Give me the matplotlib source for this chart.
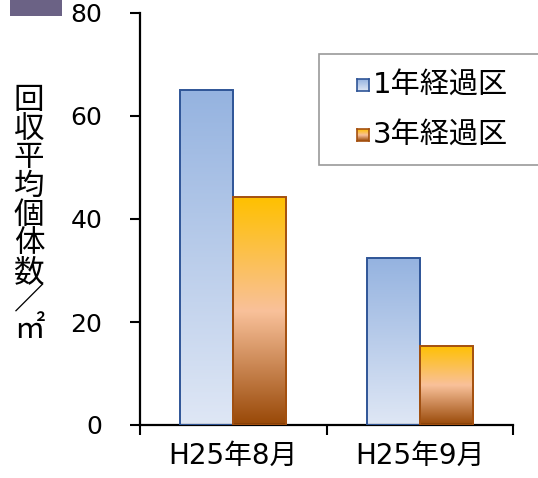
import matplotlib
matplotlib.use('Agg')
import matplotlib.pyplot as plt
import matplotlib.patches as mpatches
from matplotlib.colors import LinearSegmentedColormap
import numpy as np

plt.rcParams['font.family'] = ['DejaVu Sans', 'Noto Sans CJK JP']

# ── データ ────────────────────────────────────────────
categories = ['H25年8月', 'H25年9月']
series_names = ['1年経過区', '3年経過区']
y_1yr = [65.0, 32.4]
y_3yr = [44.2, 15.4]
y_ticks = [0, 20, 40, 60, 80]
y_label = '回収平均個体数／㎡'

# グラデーション（上→下）
cmap_blue = LinearSegmentedColormap.from_list(
    'blue_grad', [(0.0, '#95b3e0'), (1.0, '#dfe7f5')])
cmap_orange = LinearSegmentedColormap.from_list(
    'orange_grad', [(0.0, '#ffc000'), (0.5, '#f9c19a'), (1.0, '#984807')])
edge_blue = '#2f5597'
edge_orange = '#a4500f'

W, H = 538, 478
fig = plt.figure(figsize=(W / 100, H / 100), dpi=100)
fig.patch.set_facecolor('white')

ax = fig.add_axes([140 / W, 53 / H, 373 / W, 412 / H])
ax.patch.set_visible(False)
ax.set_xlim(-0.5, 1.5)
ax.set_ylim(0, 80)

bw = 0.285
x = np.arange(len(categories))
grad = np.linspace(0, 1, 256).reshape(-1, 1)


def gradient_bars(xs, heights, cmap, edge):
    bars = ax.bar(xs, heights, bw, facecolor='none', edgecolor=edge,
                  linewidth=1.4, zorder=3)
    for b in bars:
        x0, w, h = b.get_x(), b.get_width(), b.get_height()
        im = ax.imshow(grad, cmap=cmap, extent=[x0, x0 + w, 0, h],
                       aspect='auto', origin='upper', zorder=2)
        im.set_clip_path(b)
    return bars


gradient_bars(x - bw / 2, y_1yr, cmap_blue, edge_blue)
gradient_bars(x + bw / 2, y_3yr, cmap_orange, edge_orange)
ax.set_xlim(-0.5, 1.5)
ax.set_ylim(0, 80)

# 軸
for s in ['top', 'right']:
    ax.spines[s].set_visible(False)
for s in ['left', 'bottom']:
    ax.spines[s].set_linewidth(1.6)
    ax.spines[s].set_color('black')

ax.set_yticks(y_ticks)
ax.tick_params(axis='y', direction='out', length=7, width=1.5,
               labelsize=18, pad=20)
ax.set_xticks(x)
ax.set_xticklabels(categories)
ax.set_xticks([-0.5, 0.5, 1.5], minor=True)
ax.tick_params(axis='x', which='major', length=0, labelsize=20, pad=12)
ax.tick_params(axis='x', which='minor', direction='out', length=7, width=1.5)

# 縦書きの軸ラベル
fig.text(29 / W, (H - 215) / H, '\n'.join(y_label), ha='center', va='center',
         fontsize=22, linespacing=0.9, family=['Noto Sans CJK JP', 'DejaVu Sans'])

# 凡例
fig.add_artist(mpatches.Rectangle((319 / W, (H - 165) / H), 240 / W, 111 / H,
                                  transform=fig.transFigure, facecolor='white',
                                  edgecolor='#9a9a9a', linewidth=1.2,
                                  clip_on=False, zorder=1))
for i, (name, cmap, edge) in enumerate([(series_names[0], cmap_blue, edge_blue),
                                        (series_names[1], cmap_orange, edge_orange)]):
    yc = [85, 135][i]
    lax = fig.add_axes([357 / W, (H - yc - 6) / H, 12 / W, 12 / H])
    lax.set_zorder(2)
    lax.imshow(grad, cmap=cmap, extent=[0, 1, 0, 1], aspect='auto')
    lax.set_xticks([])
    lax.set_yticks([])
    for s in lax.spines.values():
        s.set_color(edge)
        s.set_linewidth(1.2)
    fig.text(373 / W, (H - yc) / H, name, ha='left', va='center', fontsize=21,
             zorder=3)

# 左上の飾り
fig.add_artist(mpatches.Rectangle((10 / W, (H - 16) / H), 52 / W, 16 / H,
                                  transform=fig.transFigure,
                                  facecolor='#6b6285', edgecolor='none'))

fig.savefig('out.png', dpi=100)
